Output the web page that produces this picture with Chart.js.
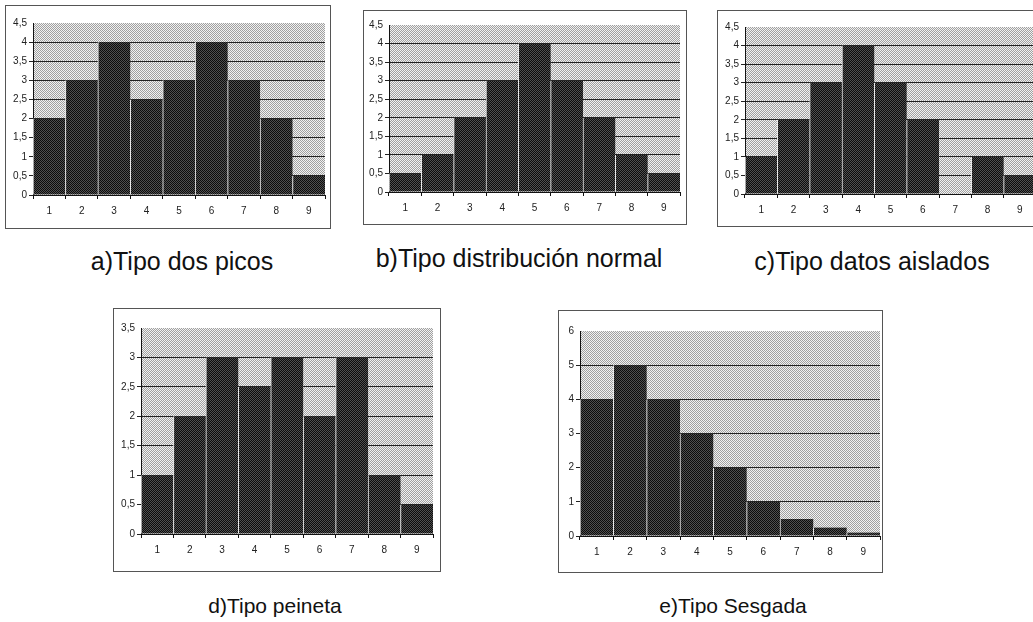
<!DOCTYPE html>
<html lang="es">
<head>
<meta charset="utf-8">
<title>Tipos de histogramas</title>
<script src="https://cdn.jsdelivr.net/npm/chart.js@4.4.1/dist/chart.umd.min.js"></script>
<style>
  html, body { margin: 0; padding: 0; background: #fff; overflow: hidden; }
  body { width: 1033px; height: 622px; position: relative; font-family: "Liberation Sans", Arial, sans-serif; }
  .frame { position: absolute; border: 1px solid #555; background: #fff; box-sizing: border-box; }
  .frame canvas { position: absolute; left: 0; top: 0; }
  .caption { position: absolute; color: #111; white-space: nowrap; transform: translateX(-50%); line-height: 1; }
  .caption.top { font-size: 25px; }
  .caption.bottom { font-size: 21px; }
</style>
</head>
<body>
<script>
// Class intervals shared by every histogram
const categories = ["1", "2", "3", "4", "5", "6", "7", "8", "9"];

// Frequencies of each histogram type
const dosPicos      = [2, 3, 4, 2.5, 3, 4, 3, 2, 0.5];
const normal        = [0.5, 1, 2, 3, 4, 3, 2, 1, 0.5];
const datosAislados = [1, 2, 3, 4, 3, 2, 0, 1, 0.5];
const peineta       = [1, 2, 3, 2.5, 3, 2, 3, 1, 0.5];
const sesgada       = [4, 5, 4, 3, 2, 1, 0.5, 0.25, 0.1];

// Y axis ranges: [max, step]
const axisDosPicos = [4.5, 0.5];
const axisNormal   = [4.5, 0.5];
const axisAislados = [4.5, 0.5];
const axisPeineta  = [3.5, 0.5];
const axisSesgada  = [6, 1];

// Captions
const captions = ["a)Tipo dos picos", "b)Tipo distribución normal", "c)Tipo datos aislados", "d)Tipo peineta", "e)Tipo Sesgada"];

// Stippled fills made from a 2x2 checker tile
function checker(a, b) {
  const c = document.createElement('canvas');
  c.width = 2; c.height = 2;
  const g = c.getContext('2d');
  g.fillStyle = a; g.fillRect(0, 0, 2, 2);
  g.fillStyle = b; g.fillRect(0, 0, 1, 1); g.fillRect(1, 1, 1, 1);
  return g.createPattern(c, 'repeat');
}
const bgPattern  = checker('#f2f2f2', '#a0a0a0');
const barPattern = checker('#505050', '#0c0c0c');

const plotBackground = {
  id: 'plotBackground',
  beforeDraw(chart) {
    const { ctx, chartArea: a } = chart;
    ctx.save();
    ctx.fillStyle = bgPattern;
    ctx.fillRect(a.left, a.top, a.right - a.left, a.bottom - a.top);
    ctx.restore();
  }
};

function fmt(v) { return String(v).replace('.', ','); }

const tickFont = { family: '"Liberation Sans", Arial, sans-serif', size: 10 };

// frame: [left, top, right, bottom]; plot: [left, top, right, bottom]
function histogram(values, axis, frame, plot) {
  const div = document.createElement('div');
  div.className = 'frame';
  const fw = frame[2] - frame[0], fh = frame[3] - frame[1];
  div.style.left = frame[0] + 'px'; div.style.top = frame[1] + 'px';
  div.style.width = fw + 'px'; div.style.height = fh + 'px';
  const cv = document.createElement('canvas');
  const cw = fw - 2, ch = fh - 2;
  cv.width = cw; cv.height = ch;
  div.appendChild(cv);
  document.body.appendChild(div);

  const ox = frame[0] + 1, oy = frame[1] + 1;
  const yW = plot[0] - ox;
  const padTop = plot[1] - oy;
  const padRight = (ox + cw) - plot[2];
  const xH = (oy + ch) - plot[3];
  const [max, step] = axis;

  new Chart(cv, {
    type: 'bar',
    data: {
      labels: categories,
      datasets: [{
        data: values,
        backgroundColor: barPattern,
        borderColor: '#e8e8e8',
        borderWidth: { left: 1, right: 0, top: 0, bottom: 0 },
        borderSkipped: false,
        barPercentage: 1,
        categoryPercentage: 1
      }]
    },
    options: {
      responsive: false,
      animation: false,
      events: [],
      layout: { padding: { top: padTop, right: padRight, left: 0, bottom: 0 } },
      plugins: { legend: { display: false }, tooltip: { enabled: false } },
      scales: {
        x: {
          offset: true,
          afterFit(s) { s.height = xH; },
          grid: { offset: true, drawOnChartArea: false, tickLength: 4, color: '#111', lineWidth: 1 },
          border: { display: true, color: '#111', width: 1 },
          ticks: { color: '#222', font: tickFont, padding: 6, maxRotation: 0 }
        },
        y: {
          min: 0, max: max,
          afterFit(s) { s.width = yW; },
          grid: {
            drawTicks: true, tickLength: 4, lineWidth: 1,
            color: (c) => (c.tick && c.tick.value >= max) ? 'rgba(0,0,0,0)' : '#222'
          },
          border: { display: true, color: '#111', width: 1 },
          ticks: {
            stepSize: step, color: '#222', padding: 2, font: tickFont,
            callback: (v) => fmt(v)
          }
        }
      }
    },
    plugins: [plotBackground]
  });
}

function caption(text, cls, cx, top) {
  const d = document.createElement('div');
  d.className = 'caption ' + cls;
  d.textContent = text;
  d.style.left = cx + 'px';
  d.style.top = top + 'px';
  document.body.appendChild(d);
}

histogram(dosPicos,      axisDosPicos, [5, 5, 331, 229],    [33, 23, 325, 195]);
histogram(normal,        axisNormal,   [363, 10, 687, 225], [389, 25, 680, 192]);
histogram(datosAislados, axisAislados, [717, 10, 1050, 227],[745, 27, 1036, 194]);
histogram(peineta,       axisPeineta,  [113, 308, 441, 572],[141, 328, 433, 534]);
histogram(sesgada,       axisSesgada,  [558, 310, 883, 573],[580, 331, 880, 536]);

caption(captions[0], 'top', 182, 249);
caption(captions[1], 'top', 519, 246);
caption(captions[2], 'top', 872, 249);
caption(captions[3], 'bottom', 275, 595);
caption(captions[4], 'bottom', 733, 595);
</script>
</body>
</html>
